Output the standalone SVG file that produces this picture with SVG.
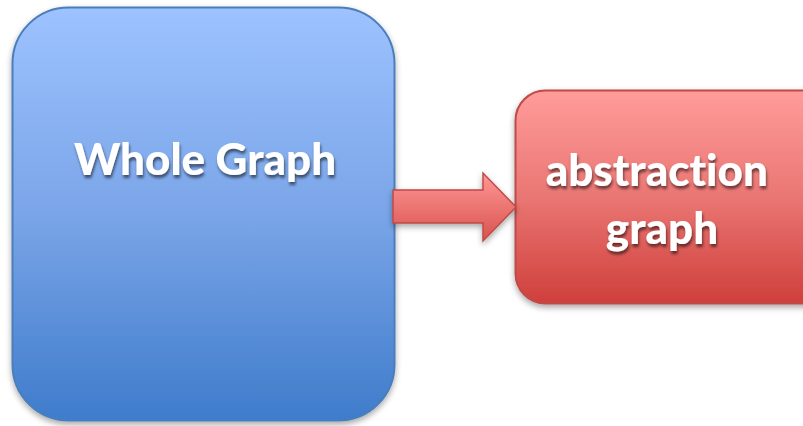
<svg xmlns="http://www.w3.org/2000/svg" width="803" height="426" viewBox="0 0 803 426">
  <defs>
    <linearGradient id="blueFill" x1="0" y1="0" x2="0" y2="1">
      <stop offset="0" stop-color="#9dc2ff"/>
      <stop offset="0.5" stop-color="#7aa5e8"/>
      <stop offset="1" stop-color="#3f7ccb"/>
    </linearGradient>
    <linearGradient id="redFill" x1="0" y1="0" x2="0" y2="1">
      <stop offset="0" stop-color="#ff9c9a"/>
      <stop offset="0.5" stop-color="#ea7673"/>
      <stop offset="1" stop-color="#cf3f3b"/>
    </linearGradient>
    <linearGradient id="arrowFill" x1="0" y1="0" x2="0" y2="1">
      <stop offset="0" stop-color="#ff9896"/>
      <stop offset="1" stop-color="#d9524e"/>
    </linearGradient>
    <filter id="boxShadow" x="-10%" y="-10%" width="120%" height="125%">
      <feGaussianBlur in="SourceAlpha" stdDeviation="3"/>
      <feOffset dx="0" dy="3" result="b"/>
      <feComponentTransfer><feFuncA type="linear" slope="0.35"/></feComponentTransfer>
      <feMerge><feMergeNode/><feMergeNode in="SourceGraphic"/></feMerge>
    </filter>
    <filter id="textShadow" x="-10%" y="-20%" width="120%" height="150%">
      <feGaussianBlur in="SourceAlpha" stdDeviation="1.5"/>
      <feOffset dx="1" dy="2.5"/>
      <feComponentTransfer><feFuncA type="linear" slope="0.55"/></feComponentTransfer>
      <feMerge><feMergeNode/><feMergeNode in="SourceGraphic"/></feMerge>
    </filter>
  </defs>
  <style>
    .label { font-family: "Lato", "Open Sans", "Liberation Sans", sans-serif; font-weight: 900; fill: #ffffff; text-anchor: middle; font-variant-ligatures: none; }
  </style>
  <rect width="803" height="426" fill="#ffffff"/>

  <g id="whole-graph" filter="url(#boxShadow)">
    <rect x="12.5" y="7.5" width="382" height="413" rx="56" ry="56" fill="url(#blueFill)" stroke="#4a7ebb" stroke-width="2"/>
    <text class="label" x="205" y="175" font-size="44" filter="url(#textShadow)">Whole Graph</text>
  </g>

  <g id="abstraction-graph" filter="url(#boxShadow)">
    <rect x="515.5" y="90.5" width="320" height="213" rx="30" ry="30" fill="url(#redFill)" stroke="#be4b48" stroke-width="2"/>
    <text class="label" font-size="44" filter="url(#textShadow)">
      <tspan x="662" y="186">abstraction</tspan>
      <tspan x="662" y="244">graph</tspan>
    </text>
  </g>

  <g id="connectors">
    <path d="M393,190 H483 V173 L516,207 L483,241 V223 H393 Z" fill="url(#arrowFill)" stroke="#be4b48" stroke-width="1.5" stroke-linejoin="miter" filter="url(#boxShadow)"/>
  </g>
</svg>
